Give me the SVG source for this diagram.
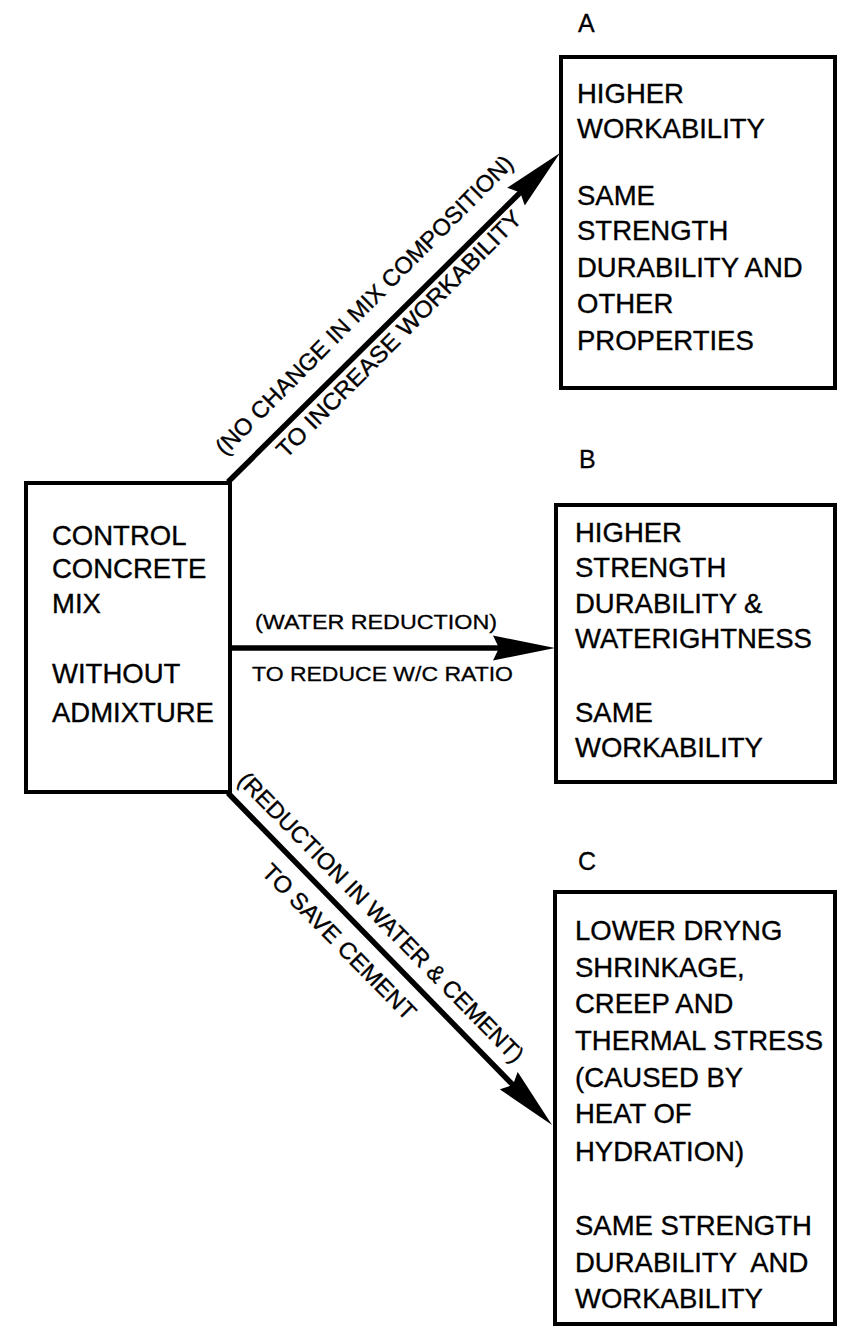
<svg xmlns="http://www.w3.org/2000/svg" width="844" height="1329" viewBox="0 0 844 1329">
<style>
  .bg{fill:#fff}
  .box{fill:#fff;stroke:#000;stroke-width:4}
  .t{font-family:"Liberation Sans",Arial,sans-serif;font-size:27.5px;fill:#000;stroke:#000;stroke-width:0.35}
  .lbl{font-family:"Liberation Sans",Arial,sans-serif;font-size:25px;fill:#000;stroke:#000;stroke-width:0.3}
  .el{font-family:"Liberation Sans",Arial,sans-serif;font-size:23.5px;fill:#000;stroke:#000;stroke-width:0.35}
  .hl{font-family:"Liberation Sans",Arial,sans-serif;font-size:20.5px;fill:#000;stroke:#000;stroke-width:0.3}
  .conn{stroke:#000;stroke-width:5.5;fill:none;marker-end:url(#ah)}
</style>
<defs>
  <marker id="ah" markerUnits="userSpaceOnUse" markerWidth="62" markerHeight="26" viewBox="0 0 62 26" refX="22" refY="13" orient="auto">
    <path d="M0,0.5 L62,13 L0,25.5 L6,13 z" fill="#000"/>
  </marker>
</defs>
<rect class="bg" x="0" y="0" width="844" height="1329"/>

<g id="connectors">
  <line class="conn" x1="228" y1="482" x2="531.6" y2="181.2"/>
  <line class="conn" x1="230" y1="648" x2="515" y2="648"/>
  <line class="conn" x1="228" y1="793" x2="524.1" y2="1096.4"/>
  <g transform="translate(228,482) rotate(-45.2)">
    <text class="el" x="16" y="-20" textLength="411" lengthAdjust="spacingAndGlyphs">(NO CHANGE IN MIX COMPOSITION)</text>
    <text class="el" x="57" y="25" textLength="337" lengthAdjust="spacingAndGlyphs">TO INCREASE WORKABILITY</text>
  </g>
  <text class="hl" x="255" y="629" textLength="242" lengthAdjust="spacingAndGlyphs">(WATER REDUCTION)</text>
  <text class="hl" x="252" y="681" textLength="261" lengthAdjust="spacingAndGlyphs">TO REDUCE W/C RATIO</text>
  <g transform="translate(228,793) rotate(45.5)">
    <text class="el" x="-2" y="-14" textLength="396" lengthAdjust="spacingAndGlyphs">(REDUCTION IN WATER &amp; CEMENT)</text>
    <text class="el" x="80" y="33" textLength="208" lengthAdjust="spacingAndGlyphs">TO SAVE CEMENT</text>
  </g>
</g>

<g id="control">
  <rect class="box" x="26" y="483" width="204" height="309"/>
  <text class="t" x="52" y="545">CONTROL</text>
  <text class="t" x="52" y="578">CONCRETE</text>
  <text class="t" x="52" y="613">MIX</text>
  <text class="t" x="52" y="683">WITHOUT</text>
  <text class="t" x="52" y="722">ADMIXTURE</text>
</g>

<g id="nodeA">
  <text class="lbl" x="578" y="32">A</text>
  <rect class="box" x="561" y="57" width="274" height="331"/>
  <text class="t" x="577" y="103">HIGHER</text>
  <text class="t" x="577" y="138">WORKABILITY</text>
  <text class="t" x="577" y="205">SAME</text>
  <text class="t" x="577" y="240">STRENGTH</text>
  <text class="t" x="577" y="277">DURABILITY AND</text>
  <text class="t" x="577" y="313">OTHER</text>
  <text class="t" x="577" y="350">PROPERTIES</text>
</g>

<g id="nodeB">
  <text class="lbl" x="579" y="468">B</text>
  <rect class="box" x="556" y="505" width="279" height="277"/>
  <text class="t" x="575" y="542">HIGHER</text>
  <text class="t" x="575" y="577">STRENGTH</text>
  <text class="t" x="575" y="613">DURABILITY &amp;</text>
  <text class="t" x="575" y="648">WATERIGHTNESS</text>
  <text class="t" x="575" y="722">SAME</text>
  <text class="t" x="575" y="757">WORKABILITY</text>
</g>

<g id="nodeC">
  <text class="lbl" x="578" y="870">C</text>
  <rect class="box" x="555" y="892" width="280" height="432"/>
  <text class="t" x="575" y="940">LOWER DRYNG</text>
  <text class="t" x="575" y="977">SHRINKAGE,</text>
  <text class="t" x="575" y="1013">CREEP AND</text>
  <text class="t" x="575" y="1050">THERMAL STRESS</text>
  <text class="t" x="575" y="1087">(CAUSED BY</text>
  <text class="t" x="575" y="1123">HEAT OF</text>
  <text class="t" x="575" y="1161">HYDRATION)</text>
  <text class="t" x="575" y="1235">SAME STRENGTH</text>
  <text class="t" x="575" y="1272" style="white-space:pre">DURABILITY  AND</text>
  <text class="t" x="575" y="1308">WORKABILITY</text>
</g>
</svg>
